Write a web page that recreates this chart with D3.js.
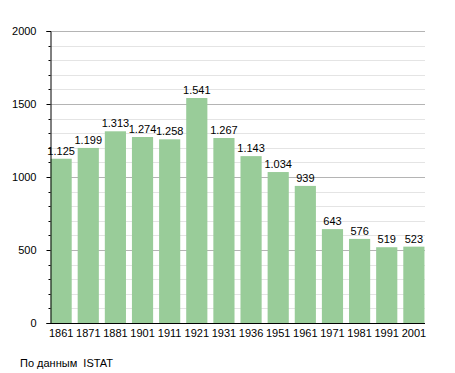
<!DOCTYPE html>
<meta charset="utf-8">
<style>
body { margin:0; background:#fff; }
text { font-family: "Liberation Sans", Arial, sans-serif; font-size: 11px; fill:#000; }
</style>
<svg width="455" height="373"></svg>
<script src="https://d3js.org/d3.v7.min.js"></script>
<script>
var years = ["1861","1871","1881","1901","1911","1921","1931","1936","1951","1961","1971","1981","1991","2001"];
var population = [1125,1199,1313,1274,1258,1541,1267,1143,1034,939,643,576,519,523];
var yTicks = [0,500,1000,1500,2000];
var source = "По данным  ISTAT";

var svg = d3.select("svg");
var mLeft = 50, mRight = 425, mTop = 31, mBottom = 323;

var x = d3.scaleBand().domain(years).range([mLeft, mRight]).paddingInner(0.22).paddingOuter(0.02);
var y = d3.scaleLinear().domain([0, 2000]).range([mBottom, mTop]);
var minor = d3.range(100, 2000, 100).filter(function(d) { return d % 500; });

// minor grid
svg.append("g").selectAll("line")
    .data(minor)
  .enter().append("line")
    .attr("x1", mLeft).attr("x2", mRight)
    .attr("y1", function(d) { return Math.round(y(d)) + 0.5; })
    .attr("y2", function(d) { return Math.round(y(d)) + 0.5; })
    .attr("stroke", "#e4e4e4");

// major grid
svg.append("g").selectAll("line")
    .data(yTicks.slice(1))
  .enter().append("line")
    .attr("x1", mLeft).attr("x2", mRight)
    .attr("y1", function(d) { return Math.round(y(d)) + 0.5; })
    .attr("y2", function(d) { return Math.round(y(d)) + 0.5; })
    .attr("stroke", "#b4b4b4");

svg.append("g").selectAll("rect")
    .data(population)
  .enter().append("rect")
    .attr("x", function(d, i) { return x(years[i]); })
    .attr("width", x.bandwidth())
    .attr("y", function(d) { return y(d); })
    .attr("height", function(d) { return mBottom - y(d); })
    .attr("fill", "#99cc99");

svg.append("g").selectAll("text")
    .data(population)
  .enter().append("text")
    .attr("x", function(d, i) { return x(years[i]) + x.bandwidth() / 2; })
    .attr("y", function(d) { return y(d) - 4; })
    .attr("text-anchor", "middle")
    .text(function(d) { return d3.format(",")(d).replace(",", "."); });

// y axis
var yAxis = d3.axisLeft(y).tickValues(yTicks).tickFormat(d3.format("d")).tickSize(4).tickPadding(10);
var ya = svg.append("g").attr("transform", "translate(" + (mLeft + 0.5) + ",0)").call(yAxis);
ya.select(".domain").attr("stroke", "#000");
ya.selectAll(".tick line").attr("stroke", "#000");
ya.selectAll(".tick text").attr("font-size", null).attr("font-family", null).attr("fill", "#000");
ya.append("g").selectAll("line")
    .data(minor)
  .enter().append("line")
    .attr("x1", -2).attr("x2", 0)
    .attr("y1", function(d) { return Math.round(y(d)) + 0.5; })
    .attr("y2", function(d) { return Math.round(y(d)) + 0.5; })
    .attr("stroke", "#000");

// x axis
var xAxis = d3.axisBottom(x).tickSize(0).tickPadding(6);
var xa = svg.append("g").attr("transform", "translate(0," + (mBottom + 0.5) + ")").call(xAxis);
xa.select(".domain").attr("stroke", "#000").attr("d", "M" + mLeft + ",0H" + mRight);
xa.selectAll(".tick text").attr("font-size", null).attr("font-family", null).attr("fill", "#000");

svg.append("text").attr("x", 20).attr("y", 367).style("white-space", "pre").text(source);
</script>
